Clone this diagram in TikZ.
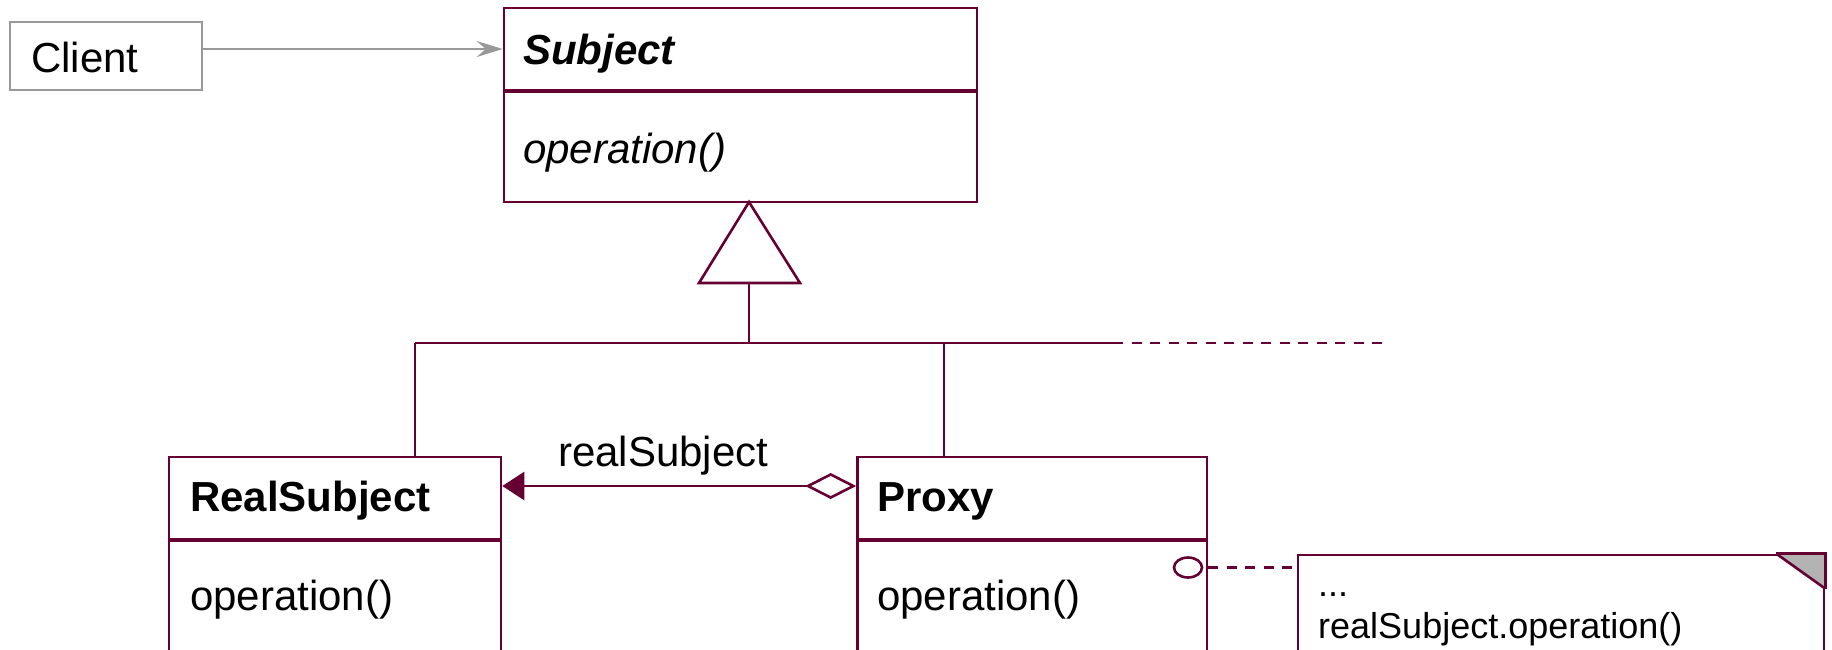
\documentclass[tikz,border=0pt]{standalone}
\usepackage{fontspec}
\setmainfont{Liberation Sans}
\usetikzlibrary{arrows.meta,shapes.geometric}
\definecolor{umlc}{RGB}{102,0,51}
\definecolor{clientgray}{RGB}{153,153,153}
\definecolor{foldgray}{RGB}{179,179,179}
\begin{document}
\begin{tikzpicture}[x=1pt,y=-1pt,
  box/.style={draw=umlc, line width=2.6pt, inner sep=0pt, fill=white},
  cbox/.style={draw=clientgray, line width=2.4pt, inner sep=0pt},
  lbl/.style={anchor=base west, inner sep=0pt, font=\fontsize{42}{50}\selectfont},
  lblb/.style={lbl, font=\fontsize{42}{50}\selectfont\bfseries},
  lbli/.style={lbl, font=\fontsize{42}{50}\selectfont\itshape},
  lblbi/.style={lbl, font=\fontsize{42}{50}\selectfont\bfseries\itshape},
  ntxt/.style={anchor=base west, inner sep=0pt, font=\fontsize{36}{43}\selectfont},
  conn/.style={draw=umlc, line width=2.6pt},
  dashconn/.style={conn, dash pattern=on 10pt off 8.5pt}]
\useasboundingbox (0,0) rectangle (1832,649);
\clip (0,0) rectangle (1832,649);
% Client
\node[cbox, minimum width=192pt, minimum height=68pt] (client) at (106,56) {};
\node[lbl] (clientT) at (31,72) {Client};
% Subject
\node[box, minimum width=473pt, minimum height=82pt] (subjH) at (740.5,49) {};
\node[box, minimum width=473pt, minimum height=110pt] (subjB) at (740.5,147) {};
\node[lblbi] (subjT) at (523,64) {Subject};
\node[lbli] (subjOp) at (523,163) {operation()};
% Client -> Subject
\draw[draw=clientgray, line width=2.4pt, -{Stealth[length=26pt,width=16pt,inset=9pt]}]
  (client.east |- subjH.west) -- (subjH.west);
% RealSubject
\node[box, minimum width=332pt, minimum height=82pt] (rsH) at (335,498) {};
\node[box, minimum width=332pt, minimum height=160pt] (rsB) at (335,621) {};
\node[lblb] (rsT) at (190,511) {RealSubject};
\node[lbl] (rsOp) at (190,610) {operation()};
% Proxy
\node[box, minimum width=349.5pt, minimum height=82pt] (pxH) at (1032.25,498) {};
\node[box, minimum width=349.5pt, minimum height=160pt] (pxB) at (1032.25,621) {};
\node[lblb] (pxT) at (877,511) {Proxy};
\node[lbl] (pxOp) at (877,610) {operation()};
% Generalization
\coordinate (apex) at (749,202);
\coordinate (tribase) at (749,283);
\coordinate (busL) at (415,343);
\coordinate (busP) at (944,343);
\coordinate (busE) at (1113,343);
\coordinate (busD) at (1385,343);
\draw[conn, fill=white, line join=miter] (apex) -- (699,283) -- (800,283) -- cycle;
\draw[conn] (tribase) -- (tribase |- busL);
\draw[conn] (busL) -- (busE);
\draw[dashconn] (busE) -- (busD);
\draw[conn] (busL) -- (busL |- rsH.north);
\draw[conn] (busP) -- (busP |- pxH.north);
% Association
\draw[conn, {Diamond[fill=white,length=51pt,width=26pt]}-{Triangle[length=22pt,width=28pt]}]
  ([yshift=12pt]pxH.west) -- ([yshift=12pt]pxH.west -| rsH.east);
\node[lbl] (assocT) at (558,466) {realSubject};
% Lollipop and note
\node[draw=umlc, line width=2.6pt, ellipse, minimum width=28pt, minimum height=20pt, inner sep=0pt] (lolli) at (1188,567.5) {};
\node[box, minimum width=526pt, minimum height=150pt] (note) at (1561,630) {};
\draw[dashconn] (pxB.east |- lolli.east) -- (note.west |- lolli.east);
\coordinate (foldA) at ([xshift=-49pt]note.north east);
\coordinate (foldB) at ([yshift=-35pt]note.north east);
\fill[foldgray] (foldA) -- (note.north east) -- (foldB) -- cycle;
\draw[conn] (foldA) -- (foldB);
\draw[conn] (foldA) -- (note.north east) -- (foldB);
\node[ntxt] (noteT1) at (1318,596) {...};
\node[ntxt] (noteT2) at (1318,638) {realSubject.operation()};
\end{tikzpicture}
\end{document}
